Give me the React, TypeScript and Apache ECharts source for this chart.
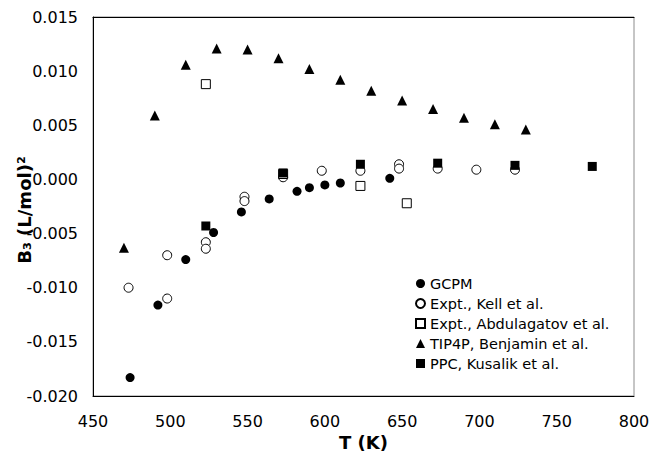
import React, { useEffect, useRef } from "react";
import * as echarts from "echarts";

const gcpmT = [474, 492, 510, 528, 546, 564, 582, 590, 600, 610, 642];
const gcpmB = [-0.0183, -0.0116, -0.0074, -0.0049, -0.0030, -0.0018, -0.0011, -0.00076, -0.00051, -0.00033, 0.0001];

const kellT = [473, 498, 498, 523, 523, 548, 548, 573, 598, 623, 648, 648, 673, 698, 723];
const kellB = [-0.0100, -0.0070, -0.0110, -0.0058, -0.0064, -0.0016, -0.0020, 0.0002, 0.0008, 0.0008, 0.0014, 0.0010, 0.0010, 0.0009, 0.0009];

const abdT = [523, 573, 623, 653];
const abdB = [0.0088, 0.0005, -0.0006, -0.0022];

const tipT = [470, 490, 510, 530, 550, 570, 590, 610, 630, 650, 670, 690, 710, 730];
const tipB = [-0.0063, 0.0059, 0.0106, 0.0121, 0.0120, 0.0112, 0.0102, 0.0092, 0.0082, 0.0073, 0.0065, 0.0057, 0.0051, 0.0046];

const ppcT = [523, 573, 623, 673, 723, 773];
const ppcB = [-0.0043, 0.0006, 0.0014, 0.0015, 0.0013, 0.0012];

const FONT = "DejaVu Sans";

function pairs(t: number[], b: number[]) {
  return t.map((v, i) => [v, b[i]]);
}

export default function App() {
  const ref = useRef<HTMLDivElement>(null);
  useEffect(() => {
    if (!ref.current) return;
    const chart = echarts.init(ref.current, null, { renderer: "svg" });
    const mk = (name: string, t: number[], b: number[], symbol: string, size: number, open: boolean, z: number) => ({
      name,
      type: "scatter",
      data: pairs(t, b),
      symbol,
      symbolSize: size,
      z,
      itemStyle: open
        ? { color: "#ffffff", borderColor: "#000000", borderWidth: 1, opacity: 1 }
        : { color: "#000000", opacity: 1 },
    });
    chart.setOption({
      animation: false,
      backgroundColor: "#ffffff",
      grid: {
        left: 93, right: 16, top: 17, bottom: 58,
        containLabel: false,
        outerBoundsMode: "none",
        show: true, borderColor: "#8c8c8c", borderWidth: 1,
      },
      legend: {
        orient: "vertical",
        left: 410,
        top: 271,
        itemWidth: 9,
        itemHeight: 9,
        itemGap: 5,
        textStyle: { fontFamily: FONT, fontSize: 14.5, color: "#000" },
        data: [
          { name: "GCPM" },
          { name: "Expt., Kell et al." },
          { name: "Expt., Abdulagatov et al." },
          { name: "TIP4P, Benjamin et al." },
          { name: "PPC, Kusalik et al." },
        ],
      },
      graphic: [
        {
          type: "text",
          x: 24,
          y: 210,
          rotation: Math.PI / 2,
          style: {
            text: "B₃ (L/mol)²",
            fontFamily: FONT,
            fontSize: 18,
            fontWeight: "bold",
            fill: "#000",
            textAlign: "center",
            textVerticalAlign: "middle",
          },
        },
      ],
      xAxis: [
        {
          type: "value",
          min: 450,
          max: 800,
          interval: 50,
          name: "T (K)",
          nameLocation: "middle",
          nameGap: 36,
          nameTextStyle: { fontFamily: FONT, fontSize: 18, fontWeight: "bold", color: "#000" },
          axisLine: { show: true, onZero: false, lineStyle: { color: "#000", width: 1 } },
          axisTick: { show: false },
          splitLine: { show: false },
          axisLabel: { fontFamily: FONT, fontSize: 16, color: "#000", margin: 17 },
        },
        {
          type: "value",
          position: "top",
          min: 450,
          max: 800,
          axisLine: { show: true, onZero: false, lineStyle: { color: "#000", width: 1 } },
          axisTick: { show: false },
          axisLabel: { show: false },
          splitLine: { show: false },
        },
      ],
      yAxis: {
        type: "value",
        min: -0.02,
        max: 0.015,
        interval: 0.005,
        axisLine: { show: true, onZero: false, lineStyle: { color: "#000", width: 1 } },
        axisTick: { show: false },
        splitLine: { show: false },
        axisLabel: {
          fontFamily: FONT,
          fontSize: 16,
          color: "#000",
          margin: 15,
          formatter: (v: number) => v.toFixed(3),
        },
      },
      series: [
        mk("GCPM", gcpmT, gcpmB, "circle", 9, false, 2),
        mk("Expt., Kell et al.", kellT, kellB, "circle", 9, true, 3),
        mk("Expt., Abdulagatov et al.", abdT, abdB, "rect", 9, true, 4),
        mk("TIP4P, Benjamin et al.", tipT, tipB, "triangle", 10, false, 5),
        mk("PPC, Kusalik et al.", ppcT, ppcB, "rect", 9, false, 6),
      ],
    });
    return () => chart.dispose();
  }, []);
  return <div ref={ref} style={{ width: 650, height: 454, position: "absolute", left: 0, top: 0 }} />;
}
